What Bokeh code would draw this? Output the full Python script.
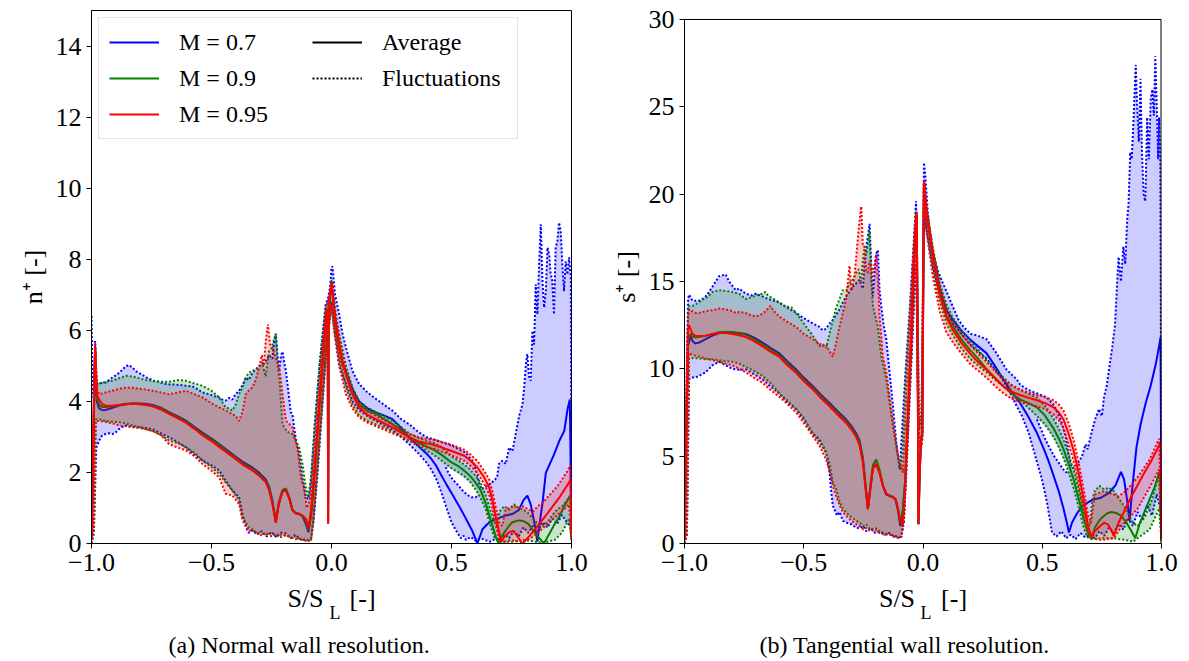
from bokeh.plotting import figure
from bokeh.layouts import row
from bokeh.models import Range1d, FixedTicker, Legend, LegendItem, Title
from bokeh.embed import file_html
from bokeh.resources import INLINE

# ---------------- texts / ticks ----------------
x_ticks = [-1.0, -0.5, 0.0, 0.5, 1.0]
x_tick_labels = ["\u22121.0", "\u22120.5", "0.0", "0.5", "1.0"]
n_ticks = [0, 2, 4, 6, 8, 10, 12, 14]
s_ticks = [0, 5, 10, 15, 20, 25, 30]
mach_labels = ["M = 0.7", "M = 0.9", "M = 0.95"]
style_labels = ["Average", "Fluctuations"]
captions = ["(a) Normal wall resolution.", "(b) Tangential wall resolution."]
y_labels = ["n\u207a [-]", "s\u207a [-]"]
x_label_parts = ["S/S", "L", "[-]"]

# ---------------- (a) normal wall resolution n+ ----------------
n_avg_07 = [(-1.0,0.1),(-0.993,2.5),(-0.985,5.5),(-0.978,4.0),(-0.968,3.8),(-0.955,3.75),(-0.94,3.76),(-0.913,3.82),(-0.885,3.88),(-0.857,3.92),(-0.829,3.94),(-0.8,3.94),(-0.774,3.93),(-0.746,3.9),(-0.71,3.82),(-0.677,3.7),(-0.64,3.58),(-0.607,3.46),(-0.57,3.28),(-0.538,3.12),(-0.5,2.95),(-0.468,2.8),(-0.43,2.6),(-0.4,2.45),(-0.37,2.3),(-0.33,2.14),(-0.3,1.98),(-0.274,1.8),(-0.26,1.6),(-0.246,1.2),(-0.232,0.6),(-0.22,1.1),(-0.205,1.45),(-0.19,1.5),(-0.175,1.25),(-0.163,0.94),(-0.15,0.85),(-0.135,0.83),(-0.12,0.76),(-0.107,0.55),(-0.096,0.32),(-0.085,0.8),(-0.075,1.6),(-0.06,3.0),(-0.045,4.4),(-0.03,5.7),(-0.02,6.4),(-0.016,6.6),(-0.014,0.6),(-0.011,6.6),(-0.006,7.0),(0.0,7.35),(0.015,6.4),(0.032,5.6),(0.046,5.1),(0.06,4.85),(0.087,4.35),(0.115,4.0),(0.15,3.8),(0.185,3.69),(0.22,3.6),(0.254,3.5),(0.29,3.25),(0.323,2.99),(0.36,2.75),(0.393,2.55),(0.414,2.4),(0.435,2.2),(0.455,1.95),(0.48,1.65),(0.5,1.42),(0.532,1.05),(0.56,0.7),(0.587,0.35),(0.608,0.0),(0.629,0.4),(0.65,0.55),(0.671,0.65),(0.7,0.72),(0.726,0.79),(0.754,0.83),(0.78,0.94),(0.8,1.22),(0.816,1.35),(0.83,1.1),(0.845,0.6),(0.858,0.05),(0.868,0.6),(0.879,1.12),(0.893,1.99),(0.927,2.5),(0.95,2.9),(0.97,3.17),(0.984,3.8),(0.993,4.05),(1.0,0.2)]
n_up_07 = [(-1.0,6.4),(-0.996,4.4),(-0.99,4.0),(-0.985,5.7),(-0.978,4.5),(-0.968,4.5),(-0.955,4.52),(-0.94,4.53),(-0.913,4.67),(-0.885,4.8),(-0.87,4.9),(-0.857,4.99),(-0.843,5.02),(-0.829,4.95),(-0.815,4.85),(-0.802,4.8),(-0.788,4.75),(-0.774,4.67),(-0.76,4.65),(-0.746,4.58),(-0.72,4.55),(-0.7,4.5),(-0.677,4.48),(-0.65,4.47),(-0.63,4.46),(-0.607,4.44),(-0.58,4.42),(-0.56,4.35),(-0.538,4.25),(-0.51,4.2),(-0.49,4.15),(-0.468,4.11),(-0.455,4.05),(-0.441,4.02),(-0.427,4.1),(-0.413,4.05),(-0.4,4.2),(-0.385,4.3),(-0.371,4.45),(-0.357,4.67),(-0.345,4.6),(-0.33,4.8),(-0.316,4.9),(-0.302,4.99),(-0.29,5.05),(-0.274,5.13),(-0.26,5.3),(-0.246,5.2),(-0.239,5.7),(-0.232,5.9),(-0.225,5.3),(-0.218,4.9),(-0.21,5.3),(-0.204,5.4),(-0.197,5.1),(-0.19,4.86),(-0.18,4.3),(-0.17,3.7),(-0.163,3.64),(-0.15,3.0),(-0.135,2.52),(-0.12,1.8),(-0.107,1.3),(-0.096,1.25),(-0.085,1.8),(-0.07,3.3),(-0.05,5.0),(-0.035,6.0),(-0.025,6.7),(-0.015,6.9),(-0.006,7.2),(0.0,7.76),(0.004,7.8),(0.015,7.0),(0.032,6.45),(0.046,5.9),(0.06,5.52),(0.087,4.86),(0.115,4.49),(0.15,4.25),(0.185,4.07),(0.22,3.9),(0.254,3.74),(0.29,3.5),(0.323,3.36),(0.36,3.15),(0.393,3.0),(0.43,2.92),(0.46,2.85),(0.5,2.76),(0.53,2.66),(0.56,2.55),(0.59,2.3),(0.605,2.0),(0.615,1.7),(0.625,1.52),(0.65,1.63),(0.678,1.77),(0.69,1.87),(0.698,2.24),(0.712,2.33),(0.726,2.24),(0.74,2.7),(0.754,2.6),(0.768,3.1),(0.782,3.6),(0.796,3.92),(0.803,4.4),(0.81,5.05),(0.816,5.33),(0.823,4.7),(0.83,4.58),(0.837,5.98),(0.844,5.6),(0.851,7.29),(0.858,6.45),(0.865,7.85),(0.872,8.98),(0.879,7.39),(0.886,6.64),(0.893,7.1),(0.9,8.33),(0.907,8.14),(0.913,7.6),(0.92,7.39),(0.927,6.45),(0.934,8.33),(0.941,8.5),(0.948,9.03),(0.955,8.8),(0.962,7.85),(0.969,7.1),(0.976,7.94),(0.983,7.57),(0.99,8.05),(0.997,7.5),(1.0,0.5)]
n_lo_07 = [(-1.0,0.0),(-0.99,0.3),(-0.98,2.7),(-0.968,2.9),(-0.955,3.05),(-0.941,3.08),(-0.927,3.1),(-0.913,3.08),(-0.9,3.12),(-0.885,3.22),(-0.871,3.28),(-0.857,3.32),(-0.843,3.3),(-0.829,3.3),(-0.815,3.27),(-0.802,3.27),(-0.774,3.25),(-0.746,3.22),(-0.71,3.1),(-0.677,2.99),(-0.64,2.85),(-0.607,2.71),(-0.57,2.5),(-0.538,2.34),(-0.5,2.2),(-0.468,2.06),(-0.441,1.77),(-0.413,1.49),(-0.385,1.3),(-0.371,0.84),(-0.357,0.46),(-0.345,0.3),(-0.33,0.37),(-0.31,0.25),(-0.29,0.35),(-0.27,0.2),(-0.25,0.32),(-0.23,0.18),(-0.21,0.3),(-0.19,0.28),(-0.17,0.15),(-0.15,0.25),(-0.135,0.14),(-0.12,0.1),(-0.107,0.12),(-0.096,0.09),(-0.085,0.15),(-0.075,0.6),(-0.06,1.8),(-0.045,3.2),(-0.03,4.6),(-0.02,5.6),(-0.01,6.1),(0.0,6.8),(0.01,6.2),(0.032,5.0),(0.06,4.5),(0.087,4.0),(0.115,3.75),(0.15,3.58),(0.185,3.45),(0.22,3.32),(0.254,3.2),(0.29,3.0),(0.323,2.8),(0.36,2.55),(0.393,2.3),(0.414,2.1),(0.44,1.77),(0.462,1.35),(0.483,0.93),(0.5,0.6),(0.511,0.46),(0.525,0.3),(0.539,0.15),(0.55,0.22),(0.56,0.1),(0.58,0.18),(0.6,0.08),(0.62,0.15),(0.64,0.1),(0.66,0.05),(0.68,0.12),(0.7,0.1),(0.72,0.25),(0.74,0.15),(0.76,0.35),(0.78,0.2),(0.8,0.45),(0.82,0.3),(0.84,0.5),(0.86,0.35),(0.88,0.6),(0.9,0.45),(0.92,0.7),(0.94,0.55),(0.96,0.8),(0.98,0.6),(0.995,0.5),(1.0,0.1)]
n_hole_top_07 = [(0.476,2.18),(0.5,2.08),(0.525,1.98),(0.545,1.88),(0.567,1.76),(0.585,1.66),(0.601,1.55),(0.61,1.47)]
n_hole_bot_07 = [(0.476,2.15),(0.49,1.95),(0.505,1.8),(0.525,1.66),(0.545,1.5),(0.567,1.36),(0.585,1.3),(0.601,1.3),(0.61,1.38)]

n_avg_09 = [(-1.0,0.1),(-0.993,2.8),(-0.985,5.5),(-0.978,4.1),(-0.968,3.9),(-0.955,3.84),(-0.94,3.84),(-0.913,3.86),(-0.885,3.9),(-0.857,3.93),(-0.829,3.94),(-0.8,3.93),(-0.774,3.91),(-0.746,3.88),(-0.71,3.8),(-0.677,3.68),(-0.64,3.55),(-0.607,3.43),(-0.57,3.25),(-0.538,3.09),(-0.5,2.92),(-0.468,2.77),(-0.43,2.57),(-0.4,2.42),(-0.37,2.26),(-0.33,2.1),(-0.3,1.94),(-0.274,1.76),(-0.26,1.56),(-0.246,1.15),(-0.232,0.62),(-0.22,1.15),(-0.205,1.5),(-0.19,1.55),(-0.175,1.28),(-0.163,0.96),(-0.15,0.86),(-0.135,0.84),(-0.12,0.78),(-0.107,0.62),(-0.096,0.38),(-0.085,0.85),(-0.075,1.65),(-0.06,3.0),(-0.045,4.4),(-0.03,5.7),(-0.02,6.4),(-0.016,6.6),(-0.014,0.6),(-0.011,6.6),(-0.006,7.0),(0.0,7.3),(0.015,6.3),(0.032,5.55),(0.046,5.05),(0.06,4.8),(0.087,4.25),(0.115,3.9),(0.15,3.73),(0.185,3.65),(0.22,3.5),(0.254,3.36),(0.29,3.18),(0.323,2.99),(0.36,2.85),(0.393,2.74),(0.43,2.62),(0.462,2.48),(0.5,2.28),(0.532,2.16),(0.553,2.05),(0.575,1.92),(0.594,1.77),(0.61,1.62),(0.622,1.49),(0.643,1.12),(0.664,0.65),(0.685,0.18),(0.695,0.02),(0.71,0.2),(0.726,0.37),(0.74,0.5),(0.754,0.6),(0.78,0.65),(0.8,0.63),(0.82,0.55),(0.837,0.4),(0.86,0.2),(0.885,0.0),(0.91,0.3),(0.93,0.55),(0.948,0.74),(0.97,1.05),(0.99,1.3),(0.996,1.35),(1.0,0.2)]
n_up_09 = [(-1.0,0.3),(-0.993,2.0),(-0.985,5.5),(-0.978,4.4),(-0.968,4.5),(-0.941,4.55),(-0.913,4.58),(-0.885,4.65),(-0.857,4.72),(-0.829,4.7),(-0.802,4.65),(-0.774,4.6),(-0.746,4.58),(-0.71,4.55),(-0.677,4.55),(-0.64,4.6),(-0.607,4.58),(-0.57,4.5),(-0.538,4.44),(-0.5,4.3),(-0.468,4.11),(-0.441,3.83),(-0.427,3.8),(-0.413,3.74),(-0.4,3.9),(-0.385,4.2),(-0.371,4.4),(-0.357,4.67),(-0.345,4.8),(-0.33,4.86),(-0.316,4.9),(-0.302,4.95),(-0.29,5.1),(-0.274,4.7),(-0.26,5.42),(-0.25,5.5),(-0.242,5.7),(-0.232,5.9),(-0.225,5.0),(-0.218,4.7),(-0.204,3.36),(-0.19,3.2),(-0.175,3.1),(-0.163,3.08),(-0.15,2.9),(-0.135,2.71),(-0.12,2.2),(-0.107,1.58),(-0.096,1.3),(-0.085,1.9),(-0.07,3.3),(-0.05,5.0),(-0.035,6.0),(-0.025,6.6),(-0.015,6.8),(-0.006,7.0),(0.0,7.4),(0.004,7.4),(0.015,6.6),(0.032,5.9),(0.06,5.0),(0.087,4.4),(0.115,4.0),(0.15,3.82),(0.185,3.7),(0.22,3.58),(0.254,3.45),(0.29,3.28),(0.323,3.1),(0.36,2.98),(0.393,2.9),(0.43,2.82),(0.462,2.7),(0.5,2.45),(0.532,2.32),(0.553,2.22),(0.575,2.1),(0.594,1.95),(0.61,1.82),(0.622,1.7),(0.643,1.35),(0.664,0.9),(0.68,0.6),(0.69,0.5),(0.7,0.9),(0.72,1.05),(0.74,0.95),(0.76,1.1),(0.78,1.0),(0.8,0.95),(0.82,0.85),(0.84,0.7),(0.86,0.55),(0.88,0.5),(0.9,0.6),(0.92,0.8),(0.94,0.95),(0.96,1.05),(0.98,1.2),(0.995,1.35),(1.0,0.2)]
n_lo_09 = [(-1.0,0.0),(-0.99,0.5),(-0.982,3.5),(-0.968,3.5),(-0.941,3.45),(-0.913,3.43),(-0.885,3.41),(-0.857,3.38),(-0.829,3.32),(-0.802,3.28),(-0.774,3.22),(-0.746,3.17),(-0.71,3.05),(-0.677,2.9),(-0.64,2.82),(-0.607,2.71),(-0.57,2.55),(-0.538,2.34),(-0.5,2.15),(-0.468,1.96),(-0.441,1.72),(-0.413,1.49),(-0.385,1.21),(-0.371,0.74),(-0.357,0.6),(-0.345,0.45),(-0.33,0.4),(-0.31,0.3),(-0.29,0.28),(-0.27,0.25),(-0.25,0.3),(-0.23,0.2),(-0.21,0.25),(-0.19,0.22),(-0.17,0.18),(-0.15,0.12),(-0.135,0.14),(-0.12,0.1),(-0.107,0.1),(-0.096,0.08),(-0.085,0.1),(-0.075,0.7),(-0.06,2.0),(-0.045,3.4),(-0.03,4.8),(-0.02,5.7),(-0.01,6.2),(0.0,6.7),(0.01,6.1),(0.032,5.2),(0.06,4.4),(0.087,3.9),(0.115,3.6),(0.15,3.45),(0.185,3.35),(0.22,3.25),(0.254,3.15),(0.29,3.02),(0.323,2.9),(0.36,2.75),(0.393,2.62),(0.42,2.52),(0.45,2.38),(0.48,2.22),(0.5,2.12),(0.525,2.02),(0.553,1.9),(0.58,1.72),(0.6,1.52),(0.62,1.3),(0.643,0.95),(0.664,0.46),(0.68,0.15),(0.7,0.05),(0.75,0.05),(0.8,0.1),(0.85,0.05),(0.88,0.0),(0.9,0.05),(0.93,0.1),(0.96,0.3),(0.99,0.7),(1.0,0.1)]

n_avg_095 = [(-1.0,0.1),(-0.993,3.0),(-0.985,5.6),(-0.978,4.2),(-0.968,4.05),(-0.955,3.92),(-0.94,3.88),(-0.913,3.88),(-0.885,3.9),(-0.857,3.92),(-0.829,3.93),(-0.8,3.92),(-0.774,3.9),(-0.746,3.86),(-0.71,3.77),(-0.677,3.65),(-0.64,3.52),(-0.607,3.4),(-0.57,3.22),(-0.538,3.05),(-0.5,2.88),(-0.468,2.72),(-0.43,2.53),(-0.4,2.38),(-0.37,2.22),(-0.33,2.06),(-0.3,1.9),(-0.274,1.72),(-0.26,1.5),(-0.246,1.1),(-0.232,0.58),(-0.22,1.1),(-0.205,1.45),(-0.19,1.5),(-0.175,1.25),(-0.163,0.94),(-0.15,0.85),(-0.135,0.83),(-0.12,0.78),(-0.107,0.7),(-0.096,0.45),(-0.085,0.95),(-0.075,1.7),(-0.06,3.05),(-0.045,4.45),(-0.03,5.75),(-0.02,6.45),(-0.016,6.6),(-0.014,0.55),(-0.011,6.6),(-0.006,7.0),(0.0,7.35),(0.015,6.3),(0.032,5.5),(0.046,5.05),(0.06,4.75),(0.087,4.2),(0.115,3.83),(0.15,3.62),(0.185,3.5),(0.22,3.38),(0.254,3.27),(0.29,3.12),(0.323,2.99),(0.36,2.88),(0.393,2.82),(0.414,2.8),(0.46,2.7),(0.497,2.61),(0.553,2.47),(0.58,2.33),(0.608,2.14),(0.636,1.86),(0.657,1.58),(0.671,1.2),(0.685,0.74),(0.7,0.28),(0.706,0.04),(0.72,0.18),(0.74,0.32),(0.755,0.35),(0.77,0.25),(0.785,0.1),(0.795,0.0),(0.81,0.1),(0.83,0.25),(0.86,0.5),(0.9,0.85),(0.95,1.3),(0.99,1.72),(0.996,1.8),(1.0,0.2)]
n_up_095 = [(-1.0,0.3),(-0.993,3.0),(-0.985,5.6),(-0.978,4.4),(-0.968,4.2),(-0.941,4.25),(-0.913,4.3),(-0.885,4.35),(-0.857,4.39),(-0.829,4.38),(-0.802,4.36),(-0.774,4.33),(-0.746,4.3),(-0.71,4.25),(-0.677,4.2),(-0.64,4.25),(-0.607,4.3),(-0.57,4.2),(-0.538,4.11),(-0.5,3.95),(-0.468,3.83),(-0.441,3.75),(-0.413,3.64),(-0.4,3.6),(-0.385,3.45),(-0.371,3.7),(-0.357,4.2),(-0.345,4.3),(-0.33,4.39),(-0.316,4.6),(-0.302,4.95),(-0.29,5.3),(-0.282,5.0),(-0.274,5.7),(-0.265,6.17),(-0.256,5.6),(-0.246,5.52),(-0.232,5.2),(-0.218,5.0),(-0.204,4.2),(-0.19,3.45),(-0.18,3.4),(-0.163,3.27),(-0.15,2.9),(-0.14,2.6),(-0.128,1.86),(-0.115,1.58),(-0.103,1.0),(-0.09,1.2),(-0.075,2.2),(-0.06,3.6),(-0.045,4.9),(-0.03,6.1),(-0.02,6.7),(-0.01,6.9),(0.0,7.3),(0.004,7.3),(0.015,6.5),(0.032,5.8),(0.06,4.9),(0.087,4.3),(0.115,3.95),(0.15,3.72),(0.185,3.6),(0.22,3.47),(0.254,3.35),(0.29,3.2),(0.323,3.08),(0.36,3.0),(0.393,2.95),(0.43,2.92),(0.5,2.78),(0.553,2.64),(0.58,2.5),(0.608,2.32),(0.636,2.05),(0.657,1.8),(0.671,1.45),(0.685,1.0),(0.7,0.55),(0.712,0.5),(0.725,0.95),(0.74,1.0),(0.76,1.05),(0.78,1.0),(0.8,1.05),(0.82,0.95),(0.84,0.9),(0.86,1.05),(0.88,1.15),(0.9,1.3),(0.92,1.45),(0.94,1.6),(0.96,1.8),(0.98,2.0),(0.995,2.2),(1.0,0.2)]
n_lo_095 = [(-1.0,0.0),(-0.99,0.5),(-0.982,3.45),(-0.968,3.45),(-0.941,3.42),(-0.913,3.38),(-0.885,3.32),(-0.857,3.3),(-0.829,3.27),(-0.802,3.25),(-0.774,3.22),(-0.746,3.17),(-0.71,3.05),(-0.677,2.8),(-0.64,2.7),(-0.607,2.62),(-0.57,2.45),(-0.538,2.24),(-0.5,2.05),(-0.468,1.86),(-0.441,1.4),(-0.413,1.35),(-0.385,1.11),(-0.371,0.65),(-0.357,0.5),(-0.345,0.35),(-0.33,0.37),(-0.31,0.3),(-0.29,0.22),(-0.27,0.3),(-0.25,0.2),(-0.23,0.28),(-0.21,0.18),(-0.19,0.25),(-0.17,0.15),(-0.15,0.2),(-0.135,0.12),(-0.12,0.1),(-0.107,0.08),(-0.096,0.06),(-0.085,0.12),(-0.075,0.8),(-0.06,2.1),(-0.045,3.5),(-0.03,4.9),(-0.02,5.8),(-0.01,6.2),(0.0,6.7),(0.01,6.0),(0.032,5.0),(0.06,4.2),(0.087,3.8),(0.115,3.55),(0.15,3.4),(0.185,3.3),(0.22,3.2),(0.254,3.1),(0.29,3.0),(0.323,2.9),(0.36,2.78),(0.393,2.7),(0.43,2.66),(0.5,2.48),(0.553,2.33),(0.58,2.18),(0.608,1.98),(0.636,1.68),(0.657,1.38),(0.671,0.98),(0.685,0.5),(0.7,0.08),(0.72,0.05),(0.75,0.1),(0.78,0.05),(0.8,0.05),(0.83,0.15),(0.86,0.3),(0.9,0.55),(0.95,0.85),(0.99,1.1),(1.0,0.1)]

# ---------------- (b) tangential wall resolution s+ ----------------
s_avg_07 = [(-1.0,0.2),(-0.993,6.0),(-0.985,11.3),(-0.975,11.9),(-0.967,11.6),(-0.955,11.45),(-0.939,11.5),(-0.911,11.7),(-0.883,11.9),(-0.855,12.05),(-0.827,12.1),(-0.799,12.1),(-0.771,12.05),(-0.743,12.0),(-0.71,11.8),(-0.673,11.5),(-0.64,11.2),(-0.603,10.9),(-0.57,10.45),(-0.532,9.96),(-0.5,9.5),(-0.462,9.0),(-0.43,8.55),(-0.392,8.05),(-0.36,7.6),(-0.322,7.1),(-0.294,6.6),(-0.28,6.3),(-0.266,5.9),(-0.252,4.9),(-0.24,3.2),(-0.231,2.0),(-0.222,3.0),(-0.21,4.3),(-0.196,4.55),(-0.182,4.1),(-0.168,3.3),(-0.154,2.8),(-0.14,2.72),(-0.126,2.65),(-0.115,2.5),(-0.105,1.9),(-0.095,1.0),(-0.085,1.8),(-0.075,3.5),(-0.061,7.9),(-0.05,11.5),(-0.041,15.0),(-0.031,18.0),(-0.026,18.8),(-0.022,10.0),(-0.019,1.1),(-0.014,4.0),(-0.008,6.0),(-0.003,6.3),(0.004,20.7),(0.015,19.0),(0.042,16.6),(0.07,14.6),(0.1,13.3),(0.126,12.8),(0.16,12.2),(0.196,11.7),(0.23,11.3),(0.266,10.9),(0.3,10.2),(0.337,9.4),(0.37,8.7),(0.407,8.05),(0.44,7.3),(0.477,6.35),(0.51,5.3),(0.527,4.7),(0.547,3.9),(0.569,3.0),(0.589,2.0),(0.603,1.2),(0.612,0.63),(0.625,1.2),(0.645,1.7),(0.667,2.15),(0.71,2.5),(0.743,2.6),(0.78,2.9),(0.808,3.35),(0.83,4.1),(0.843,3.67),(0.857,2.4),(0.866,1.3),(0.88,3.5),(0.895,5.5),(0.912,6.8),(0.933,8.0),(0.954,9.0),(0.975,10.2),(0.99,11.3),(0.996,11.8),(1.0,0.3)]
s_up_07 = [(-1.0,4.0),(-0.993,8.0),(-0.985,14.0),(-0.981,14.25),(-0.967,13.9),(-0.953,13.9),(-0.939,13.9),(-0.925,14.0),(-0.911,14.15),(-0.897,14.4),(-0.883,14.7),(-0.869,15.0),(-0.855,15.3),(-0.841,15.35),(-0.827,15.4),(-0.813,15.0),(-0.799,14.75),(-0.785,14.5),(-0.771,14.6),(-0.757,14.45),(-0.743,14.3),(-0.72,14.2),(-0.7,14.3),(-0.673,14.15),(-0.65,14.0),(-0.625,13.9),(-0.603,13.8),(-0.57,13.5),(-0.532,13.2),(-0.5,12.9),(-0.462,12.6),(-0.434,12.4),(-0.42,12.2),(-0.406,12.3),(-0.392,12.6),(-0.378,12.8),(-0.364,13.1),(-0.35,13.4),(-0.336,13.8),(-0.322,14.15),(-0.308,14.4),(-0.294,14.7),(-0.28,14.9),(-0.266,15.1),(-0.252,14.6),(-0.245,16.0),(-0.238,17.0),(-0.231,17.6),(-0.224,18.3),(-0.217,16.0),(-0.21,14.15),(-0.203,15.5),(-0.196,16.6),(-0.189,16.8),(-0.182,14.5),(-0.175,13.6),(-0.165,12.5),(-0.154,11.7),(-0.14,9.8),(-0.126,7.86),(-0.112,5.8),(-0.098,4.25),(-0.09,5.96),(-0.075,9.5),(-0.055,13.6),(-0.04,17.0),(-0.029,19.6),(-0.023,14.0),(-0.017,6.9),(-0.006,7.5),(0.0,15.0),(0.004,21.8),(0.01,21.0),(0.02,19.0),(0.037,16.8),(0.065,15.5),(0.107,14.15),(0.149,12.8),(0.17,12.4),(0.2,12.0),(0.23,11.9),(0.266,11.7),(0.308,10.9),(0.35,9.96),(0.393,9.4),(0.407,9.1),(0.44,8.8),(0.477,8.6),(0.52,8.35),(0.55,7.9),(0.58,7.0),(0.6,6.0),(0.612,5.0),(0.62,4.5),(0.63,4.3),(0.645,4.5),(0.667,5.0),(0.681,5.67),(0.69,5.4),(0.71,6.53),(0.724,7.2),(0.738,7.7),(0.75,7.3),(0.759,8.4),(0.77,9.0),(0.78,9.96),(0.794,11.3),(0.805,12.5),(0.815,15.2),(0.82,16.4),(0.83,15.0),(0.84,17.0),(0.848,16.0),(0.856,18.5),(0.862,19.5),(0.869,22.4),(0.875,22.0),(0.882,24.0),(0.892,27.4),(0.898,25.0),(0.905,23.0),(0.912,26.6),(0.918,22.5),(0.925,20.0),(0.932,19.6),(0.94,24.4),(0.947,22.0),(0.955,25.5),(0.962,26.0),(0.968,24.5),(0.974,27.9),(0.98,25.0),(0.986,22.0),(0.99,24.4),(0.995,22.0),(1.0,0.5)]
s_lo_07 = [(-1.0,0.0),(-0.99,0.5),(-0.981,9.4),(-0.967,9.5),(-0.953,9.5),(-0.939,9.6),(-0.925,9.7),(-0.911,9.8),(-0.897,10.0),(-0.883,10.2),(-0.869,10.3),(-0.855,10.4),(-0.841,10.3),(-0.827,10.2),(-0.813,10.1),(-0.799,10.0),(-0.771,9.95),(-0.743,9.96),(-0.71,9.7),(-0.673,9.4),(-0.64,9.0),(-0.603,8.6),(-0.57,8.1),(-0.532,7.7),(-0.5,7.1),(-0.462,6.3),(-0.434,5.96),(-0.42,5.6),(-0.406,5.2),(-0.392,4.06),(-0.385,3.0),(-0.378,2.15),(-0.36,1.6),(-0.35,1.8),(-0.336,1.3),(-0.322,1.2),(-0.3,1.1),(-0.28,0.9),(-0.266,0.87),(-0.25,1.0),(-0.238,0.7),(-0.22,0.9),(-0.2,0.6),(-0.182,0.68),(-0.16,0.5),(-0.14,0.6),(-0.126,0.44),(-0.11,0.4),(-0.098,0.35),(-0.09,0.5),(-0.08,1.2),(-0.07,4.0),(-0.06,7.0),(-0.05,10.0),(-0.04,13.0),(-0.033,15.5),(-0.028,16.0),(-0.023,10.0),(-0.017,5.5),(-0.008,5.5),(-0.003,6.0),(0.0,14.0),(0.004,19.0),(0.014,18.0),(0.042,15.8),(0.07,14.3),(0.098,13.3),(0.126,12.6),(0.16,12.0),(0.196,11.4),(0.23,11.0),(0.266,10.6),(0.3,10.0),(0.337,9.3),(0.37,8.5),(0.395,7.8),(0.415,7.3),(0.443,6.34),(0.471,5.0),(0.499,3.67),(0.52,2.34),(0.534,1.2),(0.541,0.63),(0.56,0.4),(0.58,0.7),(0.6,0.3),(0.62,0.5),(0.64,0.25),(0.66,0.6),(0.68,0.35),(0.7,0.5),(0.72,0.3),(0.74,0.7),(0.76,0.45),(0.78,0.9),(0.8,0.6),(0.82,1.1),(0.84,0.8),(0.86,1.4),(0.88,1.0),(0.9,1.8),(0.92,1.3),(0.94,2.2),(0.96,1.6),(0.98,2.8),(0.995,2.0),(1.0,0.1)]
s_hole_top_07 = [(0.478,7.15),(0.5,6.85),(0.527,6.45),(0.55,5.95),(0.569,5.45),(0.585,5.0),(0.598,4.6),(0.61,4.25)]
s_hole_bot_07 = [(0.478,7.1),(0.49,6.7),(0.51,6.05),(0.527,5.58),(0.55,5.0),(0.569,4.63),(0.585,4.3),(0.598,4.08),(0.61,4.1)]

s_avg_09 = [(-1.0,0.2),(-0.993,6.0),(-0.985,11.6),(-0.975,12.0),(-0.967,11.85),(-0.955,11.8),(-0.939,11.82),(-0.911,11.9),(-0.883,12.0),(-0.855,12.1),(-0.827,12.12),(-0.799,12.1),(-0.771,12.02),(-0.743,11.95),(-0.71,11.72),(-0.673,11.4),(-0.64,11.1),(-0.603,10.8),(-0.57,10.35),(-0.532,9.86),(-0.5,9.4),(-0.462,8.9),(-0.43,8.45),(-0.392,7.95),(-0.36,7.5),(-0.322,7.0),(-0.294,6.5),(-0.28,6.2),(-0.266,5.8),(-0.252,4.8),(-0.24,3.2),(-0.231,2.0),(-0.222,3.2),(-0.21,4.5),(-0.196,4.8),(-0.182,4.2),(-0.168,3.35),(-0.154,2.85),(-0.14,2.75),(-0.126,2.68),(-0.115,2.55),(-0.105,2.0),(-0.095,1.2),(-0.085,1.9),(-0.075,3.6),(-0.061,8.0),(-0.05,11.6),(-0.041,15.1),(-0.031,18.2),(-0.026,18.8),(-0.022,10.0),(-0.019,1.1),(-0.014,4.0),(-0.008,6.0),(-0.003,6.3),(0.004,20.6),(0.015,18.8),(0.042,16.4),(0.07,14.4),(0.1,13.0),(0.126,12.4),(0.16,11.7),(0.196,11.1),(0.23,10.6),(0.266,10.0),(0.3,9.5),(0.337,9.0),(0.37,8.6),(0.407,8.25),(0.44,8.05),(0.477,7.8),(0.51,7.35),(0.547,6.6),(0.57,6.0),(0.589,5.4),(0.612,4.5),(0.635,3.5),(0.654,2.5),(0.672,1.5),(0.687,0.8),(0.7,0.35),(0.71,0.3),(0.72,0.9),(0.743,1.39),(0.771,1.72),(0.79,1.8),(0.81,1.75),(0.83,1.6),(0.848,1.3),(0.87,0.8),(0.89,0.3),(0.91,1.2),(0.94,2.2),(0.97,3.2),(0.99,4.06),(0.996,4.2),(1.0,0.3)]
s_up_09 = [(-1.0,0.5),(-0.993,7.0),(-0.985,13.0),(-0.981,13.6),(-0.967,13.6),(-0.953,13.7),(-0.939,13.8),(-0.925,13.95),(-0.911,14.05),(-0.897,14.2),(-0.883,14.4),(-0.869,14.45),(-0.855,14.5),(-0.841,14.48),(-0.827,14.45),(-0.799,14.4),(-0.771,14.3),(-0.743,14.0),(-0.72,14.1),(-0.7,14.2),(-0.673,14.3),(-0.66,14.4),(-0.65,14.2),(-0.625,14.0),(-0.603,13.8),(-0.58,13.6),(-0.55,13.5),(-0.532,13.2),(-0.5,12.6),(-0.462,11.9),(-0.434,11.3),(-0.42,11.4),(-0.406,11.2),(-0.392,12.0),(-0.378,12.8),(-0.364,13.5),(-0.35,14.0),(-0.336,14.5),(-0.322,14.5),(-0.308,14.9),(-0.294,15.1),(-0.28,15.5),(-0.27,15.7),(-0.26,15.0),(-0.252,16.2),(-0.245,17.0),(-0.238,16.5),(-0.231,17.2),(-0.224,17.9),(-0.217,15.0),(-0.21,13.6),(-0.196,12.8),(-0.189,12.4),(-0.175,10.7),(-0.154,9.4),(-0.126,6.7),(-0.105,5.0),(-0.095,4.2),(-0.085,5.5),(-0.075,9.0),(-0.055,13.2),(-0.04,16.6),(-0.03,19.0),(-0.023,13.5),(-0.017,6.7),(-0.006,7.2),(0.0,14.5),(0.004,20.5),(0.015,19.2),(0.042,16.9),(0.07,14.9),(0.098,13.7),(0.126,12.9),(0.16,12.2),(0.196,11.6),(0.23,11.1),(0.266,10.5),(0.3,10.0),(0.337,9.5),(0.37,9.1),(0.407,8.8),(0.44,8.6),(0.477,8.35),(0.51,7.9),(0.547,7.15),(0.57,6.55),(0.589,5.95),(0.612,5.05),(0.635,4.05),(0.654,3.05),(0.672,2.0),(0.687,1.3),(0.7,1.0),(0.71,2.5),(0.72,3.0),(0.74,3.3),(0.76,3.1),(0.78,3.2),(0.8,3.0),(0.82,2.6),(0.85,2.0),(0.88,1.2),(0.9,1.0),(0.93,1.5),(0.96,2.5),(0.99,4.0),(1.0,0.3)]
s_lo_09 = [(-1.0,0.0),(-0.99,0.5),(-0.981,10.6),(-0.967,10.6),(-0.939,10.6),(-0.911,10.55),(-0.883,10.55),(-0.855,10.5),(-0.827,10.45),(-0.799,10.4),(-0.771,10.3),(-0.743,10.1),(-0.71,9.9),(-0.673,9.6),(-0.64,9.2),(-0.603,8.6),(-0.57,8.2),(-0.532,7.7),(-0.5,7.2),(-0.462,6.3),(-0.434,5.8),(-0.406,5.2),(-0.392,4.6),(-0.378,3.5),(-0.364,3.1),(-0.35,2.4),(-0.336,2.0),(-0.322,1.77),(-0.3,1.5),(-0.28,1.3),(-0.266,1.2),(-0.25,1.0),(-0.238,1.1),(-0.22,0.8),(-0.2,0.9),(-0.182,0.7),(-0.16,0.6),(-0.14,0.5),(-0.126,0.44),(-0.11,0.35),(-0.098,0.3),(-0.09,0.4),(-0.08,1.5),(-0.07,4.5),(-0.06,7.5),(-0.05,10.5),(-0.04,13.5),(-0.033,16.0),(-0.028,16.5),(-0.023,10.0),(-0.017,5.5),(-0.008,5.5),(-0.003,6.0),(0.0,14.0),(0.004,19.5),(0.015,18.0),(0.042,15.6),(0.07,13.9),(0.098,12.6),(0.126,11.9),(0.16,11.2),(0.196,10.6),(0.23,10.2),(0.266,9.8),(0.3,9.4),(0.337,9.0),(0.37,8.6),(0.407,8.2),(0.44,7.8),(0.477,7.3),(0.51,6.85),(0.547,6.1),(0.57,5.5),(0.589,4.9),(0.612,4.0),(0.635,3.0),(0.654,2.0),(0.672,1.0),(0.687,0.4),(0.7,0.25),(0.75,0.3),(0.8,0.3),(0.85,0.2),(0.88,0.1),(0.9,0.3),(0.95,0.8),(0.99,2.0),(1.0,0.1)]

s_avg_095 = [(-1.0,0.2),(-0.993,7.0),(-0.985,12.2),(-0.981,12.5),(-0.975,12.3),(-0.967,12.0),(-0.955,11.9),(-0.939,11.88),(-0.911,11.9),(-0.883,11.98),(-0.855,12.05),(-0.827,12.05),(-0.799,12.0),(-0.771,11.92),(-0.743,11.82),(-0.71,11.6),(-0.673,11.28),(-0.64,10.98),(-0.603,10.7),(-0.57,10.22),(-0.532,9.77),(-0.5,9.3),(-0.462,8.82),(-0.43,8.35),(-0.392,7.86),(-0.36,7.4),(-0.322,6.9),(-0.294,6.4),(-0.28,6.1),(-0.266,5.6),(-0.252,4.6),(-0.24,3.0),(-0.231,1.96),(-0.222,3.0),(-0.21,4.3),(-0.196,4.53),(-0.182,4.0),(-0.168,3.29),(-0.154,2.85),(-0.14,2.72),(-0.126,2.65),(-0.115,2.55),(-0.105,1.96),(-0.095,1.3),(-0.085,1.0),(-0.075,3.0),(-0.061,7.86),(-0.05,11.5),(-0.041,15.5),(-0.031,18.3),(-0.026,19.0),(-0.022,10.0),(-0.019,1.1),(-0.014,4.0),(-0.008,5.96),(-0.003,6.3),(0.004,20.8),(0.015,18.9),(0.042,16.4),(0.07,14.2),(0.1,12.9),(0.126,12.2),(0.16,11.5),(0.196,10.9),(0.23,10.4),(0.266,9.96),(0.3,9.5),(0.337,9.0),(0.37,8.7),(0.407,8.5),(0.44,8.35),(0.477,8.2),(0.51,8.05),(0.547,7.8),(0.57,7.5),(0.589,7.1),(0.61,6.3),(0.63,5.4),(0.65,4.2),(0.667,3.0),(0.68,2.0),(0.692,1.0),(0.705,0.44),(0.72,0.7),(0.743,1.0),(0.76,1.2),(0.775,1.1),(0.788,0.8),(0.8,0.44),(0.82,1.2),(0.848,1.96),(0.87,2.6),(0.898,3.29),(0.93,4.1),(0.96,4.8),(0.989,5.58),(0.996,5.8),(1.0,0.3)]
s_up_095 = [(-1.0,0.5),(-0.993,8.0),(-0.985,13.0),(-0.981,13.4),(-0.967,13.3),(-0.953,13.2),(-0.939,13.2),(-0.911,13.3),(-0.883,13.35),(-0.869,13.4),(-0.855,13.45),(-0.827,13.4),(-0.799,13.3),(-0.785,13.2),(-0.771,13.25),(-0.743,13.2),(-0.72,13.05),(-0.7,13.0),(-0.68,13.1),(-0.66,13.3),(-0.64,13.6),(-0.625,13.3),(-0.603,13.0),(-0.57,12.7),(-0.532,12.4),(-0.5,12.0),(-0.462,11.7),(-0.44,11.5),(-0.42,11.3),(-0.406,11.4),(-0.392,11.0),(-0.378,10.7),(-0.364,11.5),(-0.35,12.4),(-0.336,13.2),(-0.322,14.0),(-0.308,15.9),(-0.3,14.5),(-0.29,15.0),(-0.28,16.4),(-0.273,17.5),(-0.266,18.5),(-0.259,19.3),(-0.252,17.0),(-0.245,17.0),(-0.238,15.6),(-0.231,15.5),(-0.224,16.2),(-0.21,15.5),(-0.203,16.0),(-0.196,16.6),(-0.189,15.0),(-0.182,13.0),(-0.168,10.7),(-0.154,9.8),(-0.126,6.9),(-0.105,5.0),(-0.084,4.06),(-0.075,7.0),(-0.055,13.0),(-0.04,16.5),(-0.03,18.8),(-0.023,13.0),(-0.017,6.5),(-0.006,7.0),(0.0,14.5),(0.004,20.8),(0.015,19.2),(0.042,16.8),(0.07,14.8),(0.098,13.4),(0.126,12.6),(0.16,12.0),(0.196,11.4),(0.23,10.9),(0.266,10.4),(0.3,9.9),(0.337,9.4),(0.37,9.05),(0.407,8.8),(0.44,8.65),(0.477,8.5),(0.51,8.4),(0.547,8.2),(0.57,7.95),(0.589,7.6),(0.61,6.9),(0.63,6.0),(0.65,4.8),(0.667,3.6),(0.68,2.6),(0.692,1.6),(0.705,1.2),(0.72,2.8),(0.74,2.9),(0.76,3.0),(0.78,2.9),(0.8,2.8),(0.82,2.7),(0.85,3.0),(0.9,3.8),(0.95,4.8),(0.99,6.0),(1.0,0.3)]
s_lo_095 = [(-1.0,0.0),(-0.99,0.5),(-0.981,10.9),(-0.967,10.8),(-0.939,10.7),(-0.911,10.6),(-0.883,10.5),(-0.855,10.4),(-0.827,10.3),(-0.799,10.2),(-0.771,10.0),(-0.743,9.8),(-0.71,9.5),(-0.673,9.2),(-0.64,8.8),(-0.603,8.4),(-0.57,8.0),(-0.532,7.5),(-0.5,6.9),(-0.462,6.15),(-0.434,5.6),(-0.406,4.8),(-0.392,4.2),(-0.378,3.29),(-0.364,2.7),(-0.35,2.2),(-0.336,1.8),(-0.322,1.58),(-0.3,1.3),(-0.28,1.1),(-0.266,1.0),(-0.25,0.8),(-0.238,0.9),(-0.22,0.7),(-0.2,0.8),(-0.182,0.6),(-0.16,0.5),(-0.14,0.55),(-0.126,0.4),(-0.11,0.35),(-0.098,0.3),(-0.09,0.4),(-0.08,1.5),(-0.07,4.5),(-0.06,7.5),(-0.05,10.5),(-0.04,13.5),(-0.033,16.0),(-0.028,16.5),(-0.023,10.0),(-0.017,5.5),(-0.008,5.5),(-0.003,6.0),(0.0,14.0),(0.004,19.5),(0.015,17.8),(0.042,15.2),(0.07,13.3),(0.098,12.1),(0.126,11.5),(0.16,10.9),(0.196,10.3),(0.23,9.9),(0.266,9.5),(0.3,9.05),(0.337,8.6),(0.37,8.3),(0.407,8.1),(0.44,8.0),(0.477,7.85),(0.51,7.7),(0.547,7.4),(0.57,7.05),(0.589,6.6),(0.61,5.7),(0.63,4.8),(0.65,3.6),(0.667,2.4),(0.68,1.4),(0.692,0.6),(0.705,0.3),(0.75,0.2),(0.8,0.3),(0.836,1.05),(0.9,2.0),(0.95,3.2),(0.99,4.25),(1.0,0.1)]

# ---------------- styling ----------------
FONT = "Liberation Serif"
COLORS = ["#0000ff", "#008000", "#ff0000"]
NAN = float("nan")
FIG_H = 660
TOP_B = 10
BOT_B = 117
FRAME_H = FIG_H - TOP_B - BOT_B  # 533 px
NBSP = "\u00a0"


def xs_of(pts):
    return [p[0] for p in pts]


def ys_of(pts):
    return [p[1] for p in pts]


def make_fig(width, ml, mr, y_end, yticks, ylabel):
    p = figure(width=width, height=FIG_H, x_range=Range1d(-1, 1), y_range=Range1d(0, y_end),
               output_backend="svg", toolbar_location=None,
               min_border_left=ml, min_border_right=mr, min_border_top=TOP_B, min_border_bottom=BOT_B)
    p.grid.visible = False
    p.outline_line_color = "black"
    p.outline_line_width = 1
    p.outline_line_alpha = 1
    p.background_fill_color = "white"
    p.border_fill_color = "white"
    p.xaxis.ticker = FixedTicker(ticks=x_ticks)
    p.xaxis.major_label_overrides = {t: l for t, l in zip(x_ticks, x_tick_labels)}
    p.yaxis.ticker = FixedTicker(ticks=yticks)
    for ax in (p.xaxis[0], p.yaxis[0]):
        ax.axis_line_color = "black"
        ax.major_tick_line_color = "black"
        ax.major_tick_out = 5
        ax.major_tick_in = 0
        ax.minor_tick_line_color = None
        ax.major_label_text_font = FONT
        ax.major_label_text_font_size = "26px"
        ax.major_label_text_color = "black"
        ax.major_label_standoff = 5
        ax.axis_label_text_font = FONT
        ax.axis_label_text_font_size = "26px"
        ax.axis_label_text_font_style = "normal"
        ax.axis_label_text_color = "black"
    p.yaxis.axis_label = ylabel
    p.yaxis.axis_label_standoff = 5
    # x label: "S/S" + subscript "L" + " [-]"
    p.xaxis.axis_label = x_label_parts[0] + NBSP * 4 + x_label_parts[2]
    p.xaxis.axis_label_standoff = 10
    return p


def add_below_texts(p, sub_offset, cap_offset, caption):
    sub = Title(text=x_label_parts[1], align="left", offset=sub_offset, vertical_align="top",
                standoff=-26, text_font=FONT, text_font_size="18px",
                text_font_style="normal", text_color="black")
    p.add_layout(sub, "below")
    spacer = Title(text=NBSP, text_font_size="2px", standoff=10)
    p.add_layout(spacer, "below")
    cap = Title(text=caption, align="left", offset=cap_offset, vertical_align="bottom",
                standoff=0, text_font=FONT, text_font_size="24px",
                text_font_style="normal", text_color="black")
    p.add_layout(cap, "below")


def draw_series(p, avg, up, lo, color, hole_top=None, hole_bot=None):
    rx = [xs_of(up) + xs_of(lo)[::-1]]
    ry = [ys_of(up) + ys_of(lo)[::-1]]
    if hole_top is not None:
        rx.append(xs_of(hole_top) + xs_of(hole_bot)[::-1])
        ry.append(ys_of(hole_top) + ys_of(hole_bot)[::-1])
    p.multi_polygons(xs=[[rx]], ys=[[ry]], fill_color=color, fill_alpha=0.2, line_color=None)
    r = p.line(xs_of(avg), ys_of(avg), line_color=color, line_width=2)
    p.line(xs_of(up), ys_of(up), line_color=color, line_width=2, line_dash="2 2")
    p.line(xs_of(lo), ys_of(lo), line_color=color, line_width=2, line_dash="2 2")
    if hole_bot is not None:
        p.line(xs_of(hole_bot), ys_of(hole_bot), line_color=color, line_width=2, line_dash="2 2")
    return r


# ---------------- panel (a) ----------------
N_END = 15.0
p1 = make_fig(600, 91, 29, N_END, n_ticks, y_labels[0])
n_sets = [(n_avg_07, n_up_07, n_lo_07, n_hole_top_07, n_hole_bot_07),
          (n_avg_09, n_up_09, n_lo_09, None, None),
          (n_avg_095, n_up_095, n_lo_095, None, None)]
avg_r = []
for (avg, up, lo, ht, hb), col in zip(n_sets, COLORS):
    avg_r.append(draw_series(p1, avg, up, lo, col, ht, hb))
add_below_texts(p1, 238, 77, captions[0])

solid_r = p1.line(x=[NAN], y=[NAN], line_color="black", line_width=2)
dot_r = p1.line(x=[NAN], y=[NAN], line_color="black", line_width=2, line_dash="2 2")
items = [LegendItem(label=mach_labels[i], renderers=[avg_r[i]]) for i in range(3)]
items += [LegendItem(label=style_labels[0], renderers=[solid_r]),
          LegendItem(label=style_labels[1], renderers=[dot_r])]
legend = Legend(items=items, location="top_left", ncols=2,
                label_text_font=FONT, label_text_font_size="24px", label_text_color="black",
                glyph_width=50, glyph_height=28, label_height=28, label_width=125,
                label_standoff=20, spacing=8, padding=10, margin=7,
                border_line_color="#cccccc", border_line_width=1,
                background_fill_color="white", background_fill_alpha=0.8)
p1.add_layout(legend)

# ---------------- panel (b) ----------------
# frame shares the top edge with panel (a); the 30-line sits 9 px lower, as in the figure
S_TOP = 30.0
S_END = S_TOP + 9.0 * S_TOP / (FRAME_H - 9.0)
p2 = make_fig(588, 84, 27, S_END, s_ticks, y_labels[1])
p2.outline_line_color = None
p2.yaxis.bounds = (0, S_TOP)
s_sets = [(s_avg_07, s_up_07, s_lo_07, s_hole_top_07, s_hole_bot_07),
          (s_avg_09, s_up_09, s_lo_09, None, None),
          (s_avg_095, s_up_095, s_lo_095, None, None)]
for (avg, up, lo, ht, hb), col in zip(s_sets, COLORS):
    draw_series(p2, avg, up, lo, col, ht, hb)
# box edges (top and right spines) of panel (b)
p2.line(x=[x_ticks[0], x_ticks[-1]], y=[S_TOP, S_TOP], line_color="black", line_width=1)
p2.line(x=[x_ticks[-1], x_ticks[-1]], y=[S_TOP, 0], line_color="black", line_width=2)
add_below_texts(p2, 236, 75, captions[1])

layout = row(p1, p2)
open("out.html", "w").write(file_html(layout, INLINE))
